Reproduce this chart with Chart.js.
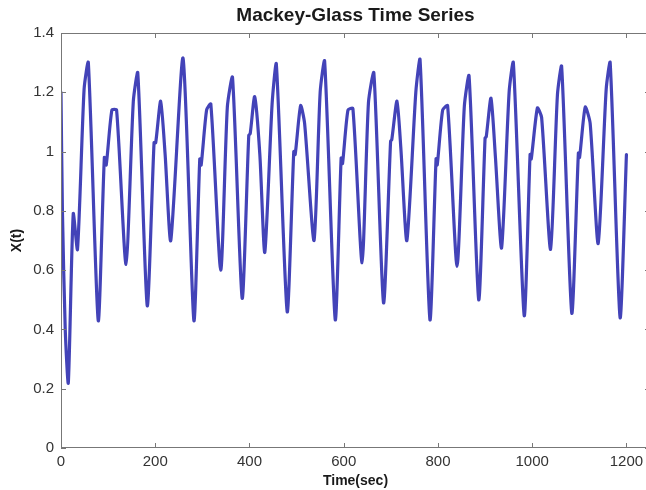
<!DOCTYPE html>
<html>
<head>
<meta charset="utf-8">
<title>Mackey-Glass Time Series</title>
<script src="https://cdn.jsdelivr.net/npm/chart.js@4.4.1/dist/chart.umd.min.js"></script>
<style>
  html, body { margin: 0; padding: 0; background: #fff; overflow: hidden; }
  #wrap { width: 650px; height: 490px; position: relative; }
</style>
</head>
<body>
<div id="wrap"><canvas id="mg"></canvas></div>
<script>
// points (turning points and shoulders)
const times = [
  0, 3, 9, 15.5, 26, 35, 49, 58, 79, 92, 96, 108, 118,
  138, 153.5, 163, 183, 197.5, 201, 211.5, 221, 233, 259, 282,
  294.5, 297.5, 309, 318, 339, 353, 364, 384.5, 398.5, 401.5, 411, 422,
  432.5, 448, 457, 480, 494, 497, 508.5, 517, 537, 550, 559.5, 582,
  594.5, 597.5, 609, 619.5, 639, 652.5, 664, 684.5, 699.5, 702, 713, 721.5,
  734, 753, 762, 783, 796, 798.5, 810, 820.5, 840.5, 856, 866, 886.5,
  900, 902.5, 912.5, 922, 935, 951, 960, 983, 995.5, 998, 1011, 1020,
  1039, 1053.5, 1062.5, 1084, 1098, 1100.5, 1112.5, 1123, 1140, 1157, 1165.5, 1186.5, 1200
];
const values = [
  1.20, 0.80, 0.40, 0.22, 0.79, 0.67, 1.21, 1.30, 0.43, 0.98, 0.955, 1.14, 1.14,
  0.62, 1.17, 1.265, 0.48, 1.03, 1.03, 1.17, 0.99, 0.70, 1.315, 0.43,
  0.975, 0.955, 1.14, 1.16, 0.60, 1.15, 1.25, 0.505, 1.055, 1.06, 1.185, 0.99,
  0.66, 1.16, 1.295, 0.46, 1.00, 0.99, 1.155, 1.095, 0.70, 1.20, 1.305, 0.433,
  0.978, 0.96, 1.14, 1.145, 0.625, 1.165, 1.265, 0.49, 1.035, 1.04, 1.17, 1.005,
  0.70, 1.20, 1.31, 0.433, 0.976, 0.955, 1.14, 1.155, 0.613, 1.153, 1.255, 0.50,
  1.046, 1.05, 1.18, 0.98, 0.675, 1.20, 1.30, 0.447, 0.99, 0.975, 1.147, 1.115,
  0.67, 1.19, 1.287, 0.455, 0.995, 0.98, 1.15, 1.095, 0.69, 1.21, 1.30, 0.44, 0.99
];
const xTicks = [0, 200, 400, 600, 800, 1000, 1200];
const yTicks = [0, 0.2, 0.4, 0.6, 0.8, 1, 1.2, 1.4];

const axisColor = '#777';
const textColor = '#333';

// MATLAB-like box with inward ticks, plus the title over the plot area
const matlabBox = {
  id: 'matlabBox',
  afterDraw: chart => {
    const { ctx, chartArea: a, scales } = chart;
    const len = 5;
    ctx.save();
    ctx.strokeStyle = axisColor;
    ctx.lineWidth = 1;
    ctx.strokeRect(a.left + 0.5, a.top + 0.5, a.right - a.left - 1, a.bottom - a.top - 1);
    ctx.beginPath();
    xTicks.forEach(v => {
      const x = Math.round(scales.x.getPixelForValue(v)) + 0.5;
      ctx.moveTo(x, a.bottom); ctx.lineTo(x, a.bottom - len);
      ctx.moveTo(x, a.top); ctx.lineTo(x, a.top + len);
    });
    yTicks.forEach(v => {
      const y = Math.round(scales.y.getPixelForValue(v)) + 0.5;
      ctx.moveTo(a.left, y); ctx.lineTo(a.left + len, y);
      ctx.moveTo(a.right, y); ctx.lineTo(a.right - len, y);
    });
    ctx.stroke();

    ctx.fillStyle = '#1a1a1a';
    ctx.font = 'bold 19px "Liberation Sans", Arial, sans-serif';
    ctx.textAlign = 'center';
    ctx.textBaseline = 'alphabetic';
    ctx.fillText('Mackey-Glass Time Series', (a.left + a.right) / 2, 21);
    ctx.restore();
  }
};

new Chart(document.getElementById('mg').getContext('2d'), {
  type: 'line',
  data: {
    datasets: [{
      data: times.map((t, i) => ({ x: t, y: values[i] })),
      borderColor: '#4343b8',
      borderWidth: 3.2,
      borderJoinStyle: 'round',
      borderCapStyle: 'round',
      pointRadius: 0,
      tension: 0.22,
      fill: false
    }]
  },
  options: {
    responsive: true,
    maintainAspectRatio: false,
    animation: false,
    layout: { padding: { top: 33, right: 0, bottom: 0, left: 0 } },
    scales: {
      x: {
        type: 'linear',
        min: 0,
        max: 1250,
        afterBuildTicks: s => { s.ticks = xTicks.map(v => ({ value: v })); },
        afterFit: s => { s.height = 42; },
        grid: { display: false, drawTicks: false },
        border: { display: false },
        ticks: {
          padding: 5,
          color: textColor,
          font: { family: '"Liberation Sans", Arial, sans-serif', size: 15 },
          callback: v => String(v),
          maxRotation: 0
        },
        title: {
          display: true,
          text: 'Time(sec)',
          color: '#1a1a1a',
          font: { family: '"Liberation Sans", Arial, sans-serif', size: 14, weight: 'bold' },
          padding: { top: 0, bottom: 0 }
        }
      },
      y: {
        min: 0,
        max: 1.4,
        afterBuildTicks: s => { s.ticks = yTicks.map(v => ({ value: v })); },
        afterFit: s => { s.width = 61; },
        grid: { display: false, drawTicks: false },
        border: { display: false },
        ticks: {
          padding: 7,
          color: textColor,
          font: { family: '"Liberation Sans", Arial, sans-serif', size: 15 },
          callback: v => String(v)
        },
        title: {
          display: true,
          text: 'X(t)',
          color: '#1a1a1a',
          font: { family: '"Liberation Sans", Arial, sans-serif', size: 14, weight: 'bold' },
          padding: { top: 9, bottom: 0 }
        }
      }
    },
    plugins: {
      legend: { display: false },
      title: { display: false },
      tooltip: { enabled: false }
    }
  },
  plugins: [matlabBox]
});
</script>
</body>
</html>
